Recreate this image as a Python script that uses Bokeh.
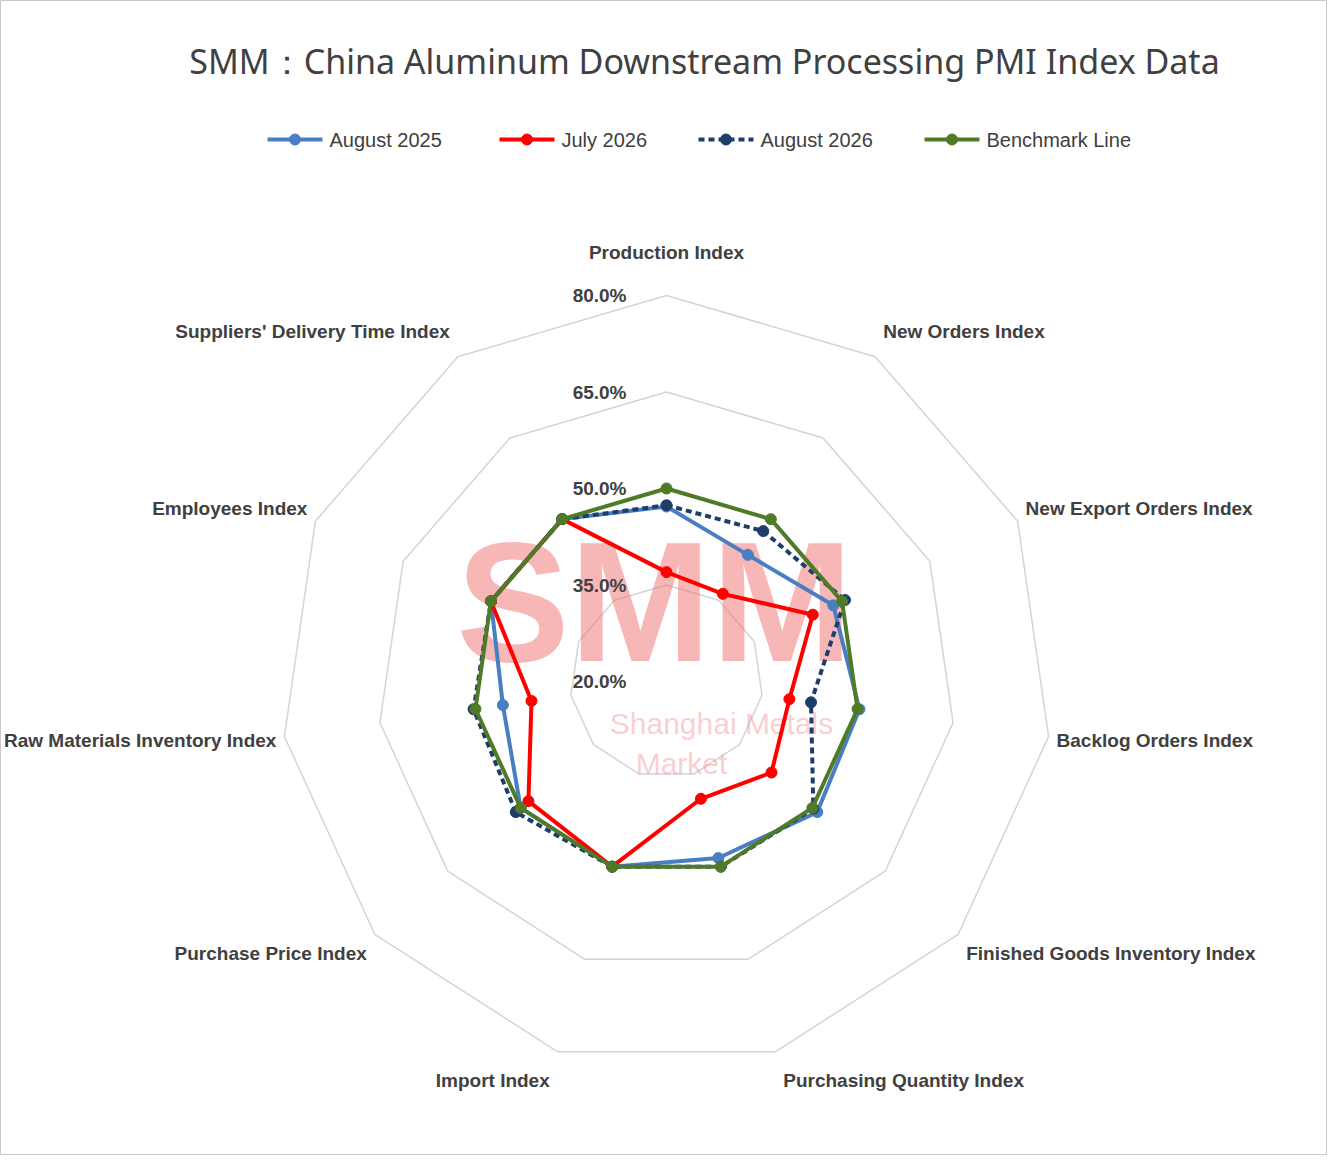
import numpy as np
from bokeh.plotting import figure
from bokeh.models import Range1d
from bokeh.core.properties import value
from bokeh.embed import file_html
from bokeh.resources import INLINE

categories = ["Production Index", "New Orders Index", "New Export Orders Index", "Backlog Orders Index",
              "Finished Goods Inventory Index", "Purchasing Quantity Index", "Import Index",
              "Purchase Price Index", "Raw Materials Inventory Index", "Employees Index",
              "Suppliers' Delivery Time Index"]
aug_2025 = [47.2, 43.4, 48.5, 50.3, 51.0, 48.6, 50.0, 50.0, 45.7, 50.0, 50.0]
jul_2026 = [37.0, 36.2, 45.0, 39.3, 41.6, 39.0, 50.0, 48.4, 41.2, 50.0, 50.0]
aug_2026 = [47.4, 47.8, 50.5, 42.7, 50.2, 50.0, 50.0, 51.0, 50.3, 50.0, 50.0]
benchmark = [50.0] * 11
ring_values = [20, 35, 50, 65, 80]
ring_labels = ["20.0%", "35.0%", "50.0%", "65.0%", "80.0%"]
series_names = ["August 2025", "July 2026", "August 2026", "Benchmark Line"]

W, H = 1327, 1155
CX, CY = 666, 474
RMIN, RMAX, RPX = 20, 80, 386
FONT = "Liberation Sans"
n = len(categories)
ang = np.pi / 2 - np.arange(n) * 2 * np.pi / n

def xy(vals):
    r = (np.array(vals) - RMIN) / (RMAX - RMIN) * RPX
    return CX + r * np.cos(ang), CY + r * np.sin(ang)

p = figure(width=W, height=H, output_backend="svg", toolbar_location=None,
           x_range=Range1d(0, W), y_range=Range1d(0, H), min_border=0)
p.axis.visible = False
p.grid.visible = False
p.outline_line_color = "#c8c8c8"
p.background_fill_color = "white"

for v in ring_values[1:]:
    x, y = xy([v] * n)
    p.line(list(x) + [x[0]], list(y) + [y[0]], line_color="#d4d4d4", line_width=1.5)

# watermark
p.text([CX - 12], [CY + 80], text=["SMM"], text_font=value("Liberation Sans"), text_font_style="bold",
       text_font_size="170px", text_color="#f07070", text_alpha=0.5, text_align="center", text_baseline="middle")
p.text([CX + 55], [CY - 42], text=["Shanghai Metals"], text_font=value("Liberation Sans"),
       text_font_size="30px", text_color="#f08080", text_alpha=0.4, text_align="center", text_baseline="middle")
p.text([CX + 15], [CY - 82], text=["Market"], text_font=value("Liberation Sans"),
       text_font_size="30px", text_color="#f08080", text_alpha=0.4, text_align="center", text_baseline="middle")

styles = [("#4a7ec2", "solid"), ("#ff0000", "solid"), ("#1f3d6b", "6 4"), ("#4f7a28", "solid")]
for vals, (c, d) in zip([aug_2025, jul_2026, aug_2026, benchmark], styles):
    x, y = xy(vals)
    p.line(list(x) + [x[0]], list(y) + [y[0]], line_color=c, line_width=4, line_dash=d)
    p.scatter(x, y, size=11, fill_color=c, line_color=c)

for v, lab in zip(ring_values, ring_labels):
    r = (v - RMIN) / (RMAX - RMIN) * RPX
    p.text([CX - 40], [CY + r], text=[lab], text_font=value(FONT), text_font_style="bold",
           text_font_size="19px", text_color="#404040", text_align="right", text_baseline="middle")

ox, oy = xy([80] * n)
for k, cat in enumerate(categories):
    dx, dy = np.cos(ang[k]), np.sin(ang[k])
    if k == 0:
        tx, ty, al = ox[k], oy[k] + 43, "center"
    else:
        tx = ox[k] + 8 * np.sign(dx)
        ty = oy[k] + dy * 30
        al = "left" if dx > 0 else "right"
    p.text([tx], [ty], text=[cat], text_font=value(FONT), text_font_style="bold",
           text_font_size="19px", text_color="#404040", text_align=al, text_baseline="middle")

p.text([704], [H - 60], text=["SMM：China Aluminum Downstream Processing PMI Index Data"],
       text_font=value("Noto Sans"), text_font_size="34px", text_color="#404040",
       text_align="center", text_baseline="middle")

lx = [267, 499, 698, 924]
ly = H - 139
for x0, name, (c, d) in zip(lx, series_names, styles):
    p.line([x0, x0 + 55], [ly, ly], line_color=c, line_width=4, line_dash=d)
    p.scatter([x0 + 27.5], [ly], size=11, fill_color=c, line_color=c)
    p.text([x0 + 62], [ly], text=[name], text_font=value("Liberation Sans"), text_font_size="20px",
           text_color="#404040", text_align="left", text_baseline="middle")

open("out.html", "w").write(file_html(p, INLINE))
